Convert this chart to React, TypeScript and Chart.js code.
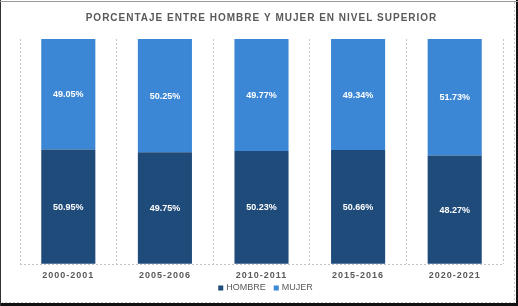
import React, { useEffect, useRef } from 'react';
import { Chart, registerables } from 'chart.js';

Chart.register(...registerables);

const categories = ['2000-2001', '2005-2006', '2010-2011', '2015-2016', '2020-2021'];
const hombre = [50.95, 49.75, 50.23, 50.66, 48.27];
const mujer = [49.05, 50.25, 49.77, 49.34, 51.73];
const seriesNames = ['HOMBRE', 'MUJER'];
const titleText = 'PORCENTAJE ENTRE HOMBRE Y MUJER EN NIVEL SUPERIOR';

const HOMBRE_COLOR = '#1f4b7b';
const MUJER_COLOR = '#3b86d5';
const TEXT = '#595959';
const FONT = "'Liberation Sans', Arial, sans-serif";
const W = 518;
const H = 306;

const framePlugin = {
  id: 'frame',
  beforeDraw(chart: any) {
    const { ctx, width, height } = chart;
    ctx.save();
    ctx.fillStyle = '#ffffff';
    ctx.fillRect(0, 0, width, height);
    ctx.fillStyle = '#111111';
    ctx.fillRect(width - 2, 0, 2, height);
    ctx.fillRect(0, height - 3, width, 3);
    ctx.fillStyle = '#333333';
    ctx.fillRect(0, 0, 1, height);
    ctx.fillStyle = '#9a9a9a';
    ctx.fillRect(0, 1, width, 1);
    ctx.strokeStyle = '#c8c8c8';
    ctx.setLineDash([2, 2]);
    ctx.lineWidth = 1;
    ctx.beginPath();
    ctx.moveTo(width - 3.5, 2);
    ctx.lineTo(width - 3.5, height - 3.5);
    ctx.lineTo(2, height - 3.5);
    ctx.stroke();
    ctx.restore();
    ctx.letterSpacing = '1px';
  },
};

const dataLabelPlugin = {
  id: 'dataLabels',
  afterDatasetsDraw(chart: any) {
    const { ctx } = chart;
    ctx.save();
    ctx.letterSpacing = '0px';
    ctx.font = `bold 9px ${FONT}`;
    ctx.fillStyle = '#ffffff';
    ctx.textAlign = 'center';
    ctx.textBaseline = 'middle';
    chart.data.datasets.forEach((ds: any, i: number) => {
      const meta = chart.getDatasetMeta(i);
      meta.data.forEach((bar: any, j: number) => {
        const { x, y, base } = bar.getProps(['x', 'y', 'base'], true);
        ctx.fillText(ds.data[j].toFixed(2) + '%', x, (y + base) / 2 + 0.5);
      });
    });
    ctx.restore();
  },
};

const legendPlugin = {
  id: 'customLegend',
  afterDraw(chart: any) {
    const { ctx, chartArea } = chart;
    ctx.save();
    ctx.letterSpacing = '0px';
    ctx.font = `9px ${FONT}`;
    ctx.textBaseline = 'middle';
    ctx.textAlign = 'left';
    const box = 5;
    const gap = 3;
    const itemGap = 8;
    const items = chart.data.datasets.map((ds: any) => ({
      label: ds.label,
      color: ds.backgroundColor,
      w: ctx.measureText(ds.label).width,
    }));
    const total = items.reduce((s: number, it: any) => s + box + gap + it.w, 0) + itemGap * (items.length - 1);
    let x = (chartArea.left + chartArea.right) / 2 + 4 - total / 2;
    const y = 288;
    items.forEach((it: any) => {
      ctx.fillStyle = it.color;
      ctx.fillRect(x, y - box / 2, box, box);
      x += box + gap;
      ctx.fillStyle = TEXT;
      ctx.fillText(it.label, x, y);
      x += it.w + itemGap;
    });
    ctx.restore();
  },
};

export default function App() {
  const ref = useRef<HTMLCanvasElement | null>(null);

  useEffect(() => {
    if (!ref.current) return;
    const chart = new Chart(ref.current, {
      type: 'bar',
      data: {
        labels: categories,
        datasets: [
          { label: seriesNames[0], data: hombre, backgroundColor: HOMBRE_COLOR, barPercentage: 0.56, categoryPercentage: 1 },
          { label: seriesNames[1], data: mujer, backgroundColor: MUJER_COLOR, barPercentage: 0.56, categoryPercentage: 1 },
        ],
      },
      options: {
        responsive: false,
        animation: false,
        layout: { padding: { left: 20, right: 15, top: 0, bottom: 19 } },
        plugins: {
          legend: { display: false },
          tooltip: { enabled: false },
          title: {
            display: true,
            text: titleText,
            color: TEXT,
            font: { family: FONT, size: 10, weight: 'bold' },
            padding: { top: 12, bottom: 15 },
          },
        },
        scales: {
          x: {
            stacked: true,
            grid: { offset: true, drawTicks: false, color: '#c4c4c4', lineWidth: 1 },
            border: { display: false, dash: [2, 2] },
            ticks: { color: TEXT, font: { family: FONT, size: 9, weight: 'bold' }, padding: 6, maxRotation: 0 },
          },
          y: {
            stacked: true,
            min: 0,
            max: 100,
            ticks: { display: false },
            grid: {
              drawTicks: false,
              color: (c: any) => (c.tick && c.tick.value === 0 ? '#c4c4c4' : 'rgba(0,0,0,0)'),
            },
            border: { display: false, dash: [2, 2] },
          },
        },
      },
      plugins: [framePlugin, dataLabelPlugin, legendPlugin],
    });
    return () => chart.destroy();
  }, []);

  return (
    <div style={{ position: 'absolute', left: 0, top: 0, width: W, height: H }}>
      <canvas ref={ref} width={W} height={H} style={{ display: 'block', width: W, height: H }} />
    </div>
  );
}
